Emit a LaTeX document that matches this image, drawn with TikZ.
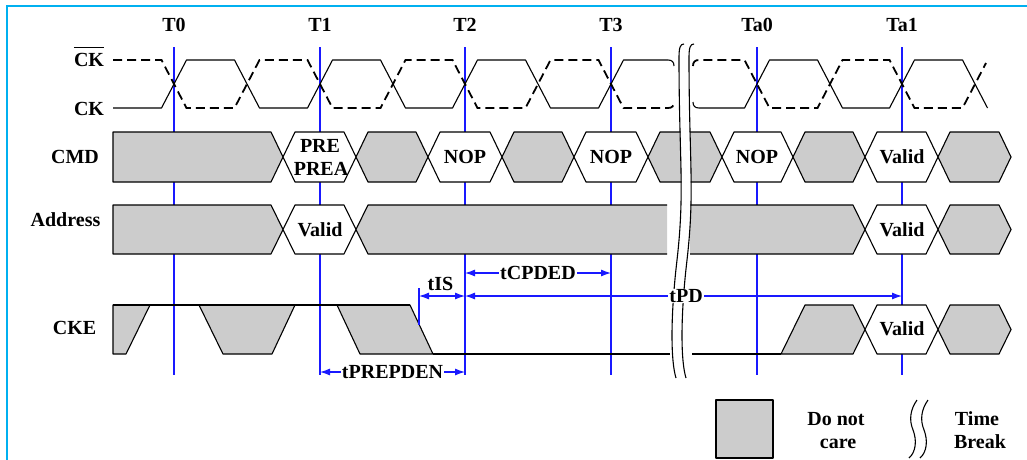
\documentclass[tikz,border=0pt]{standalone}
\usepackage{fontspec}
\setmainfont{Liberation Serif}
\usetikzlibrary{arrows.meta}
\definecolor{framec}{RGB}{0,176,240}
\definecolor{tline}{RGB}{25,25,255}
\definecolor{dnc}{RGB}{204,204,204}
\tikzset{
  lbl/.style={font=\fontsize{20}{23}\selectfont\bfseries, inner sep=0pt, anchor=base},
  sig/.style={line width=1.1pt, black, line join=round},
  ckdash/.style={line width=1.8pt, black, dash pattern=on 9pt off 5pt},
  dncshape/.style={fill=dnc, draw=black, line width=1.1pt, line join=round},
  valshape/.style={fill=white, draw=black, line width=1.1pt, line join=round},
  tl/.style={tline, line width=1.1pt},
  dimarrow/.style={tline, line width=1.1pt, {Latex[length=10pt,width=7pt]}-{Latex[length=10pt,width=7pt]}},
  dimlbl/.style={font=\fontsize{20}{23}\selectfont\bfseries, fill=white, inner xsep=1pt, inner ysep=0pt, text=black},
}
% style, a, b, top, mid, bot
\newcommand\hexsig[6]{\path[#1] (#2,#5) -- ({#2+12},#4) -- ({#3-12},#4) -- (#3,#5) -- ({#3-12},#6) -- ({#2+12},#6) -- cycle;}
\newcommand\brkcurve{(684,44) .. controls (680,44) and (679,48) .. (679,58) .. controls (679,160) and (685,190) .. (677,260) .. controls (670,320) and (671,362) .. (676,378)}
\newcommand\legbrk{(917,400) .. controls (910,410) and (909,420) .. (913,430) .. controls (917,440) and (916,452) .. (909,458)}
\begin{document}
\begin{tikzpicture}[x=1pt,y=-1pt]
\useasboundingbox (0,0) rectangle (1027,459);
% frame
\draw[framec, line width=2pt] (1032,6) -- (6.5,6) -- (6.5,465);
% time lines and labels
\foreach \x/\n in {174/T0,320/T1,465/T2,611/T3,757/Ta0,902/Ta1} {
  \coordinate (\n t) at (\x,47);
  \coordinate (\n b) at (\x,375);
  \draw[tl] (\n t) -- (\n b);
  \node[lbl] (lab\n) at (\x,31.6) {\n};
}
% signal names
\node[lbl] (ckbar) at (89,66) {CK};
\draw[line width=1.6pt] ([yshift=5pt]ckbar.north west) -- ([yshift=5pt]ckbar.north east);
\node[lbl] (ck) at (89,115) {CK};
\node[lbl] (cmd) at (75,163.5) {CMD};
\node[lbl] (addr) at (65.5,226) {Address};
\node[lbl] (cke) at (74.5,334) {CKE};
% clocks
\draw[sig] (113,108) -- (161.5,108) -- (186.5,60) -- (234.5,60) -- (259.5,108) -- (307.5,108) -- (332.5,60) -- (380.5,60) -- (405.5,108) -- (452.5,108) -- (477.5,60) -- (525.5,60) -- (550.5,108) -- (598.5,108) -- (623.5,60) -- (668,60) .. controls (672,60) and (674,62) .. (674,66);
\draw[ckdash] (113,60) -- (161.5,60) -- (186.5,108) -- (234.5,108) -- (259.5,60) -- (307.5,60) -- (332.5,108) -- (380.5,108) -- (405.5,60) -- (452.5,60) -- (477.5,108) -- (525.5,108) -- (550.5,60) -- (598.5,60) -- (623.5,108) -- (668,108) .. controls (672,108) and (674,106) .. (674,102);
\draw[sig] (693,102) .. controls (693,106) and (695,108) .. (699,108) -- (744.5,108) -- (769.5,60) -- (817.5,60) -- (842.5,108) -- (889.5,108) -- (914.5,60) -- (962.5,60) -- (987.5,108);
\draw[ckdash] (693,66) .. controls (693,62) and (695,60) .. (699,60) -- (744.5,60) -- (769.5,108) -- (817.5,108) -- (842.5,60) -- (889.5,60) -- (914.5,108) -- (962.5,108) -- (986,63);
% CMD row
\path[dncshape] (113,132) -- (271,132) -- (283,157) -- (271,182) -- (113,182) -- cycle;
\hexsig{valshape}{283}{356}{132}{157}{182}
\hexsig{dncshape}{356}{428}{132}{157}{182}
\hexsig{valshape}{428}{502}{132}{157}{182}
\hexsig{dncshape}{502}{574}{132}{157}{182}
\hexsig{valshape}{574}{648}{132}{157}{182}
\hexsig{dncshape}{648}{722}{132}{157}{182}
\hexsig{valshape}{722}{793}{132}{157}{182}
\hexsig{dncshape}{793}{865}{132}{157}{182}
\hexsig{valshape}{865}{938}{132}{157}{182}
\hexsig{dncshape}{938}{1011}{132}{157}{182}
% Address row
\path[dncshape] (113,205) -- (271,205) -- (283,229.5) -- (271,254) -- (113,254) -- cycle;
\hexsig{valshape}{283}{356}{205}{229.5}{254}
\fill[dnc] (356,229.5) -- (368,205) -- (667,205) -- (667,254) -- (368,254) -- cycle;
\draw[sig] (667,205) -- (368,205) -- (356,229.5) -- (368,254) -- (667,254);
\fill[dnc] (690,205) -- (853,205) -- (865,229.5) -- (853,254) -- (690,254) -- cycle;
\draw[sig] (690,205) -- (853,205) -- (865,229.5) -- (853,254) -- (690,254);
\hexsig{valshape}{865}{938}{205}{229.5}{254}
\hexsig{dncshape}{938}{1011}{205}{229.5}{254}
% CKE row
\path[dncshape] (113,305) -- (150,305) -- (126,354) -- (113,354) -- cycle;
\path[dncshape] (199,305) -- (295,305) -- (272,354) -- (223,354) -- cycle;
\path[dncshape] (337,305) -- (410,305) -- (433,354) -- (360,354) -- cycle;
\draw[sig] (113,305) -- (410,305);
\draw[sig] (433,354) -- (670,354);
\draw[sig] (692,354) -- (781,354);
\path[dncshape] (781,354) -- (805,305) -- (853,305) -- (865,329.5) -- (853,354) -- cycle;
\hexsig{valshape}{865}{938}{305}{329.5}{354}
\hexsig{dncshape}{938}{1011}{305}{329.5}{354}
% hex labels
\node[lbl] (pre) at (320,152) {PRE};
\node[lbl] (prea) at (321,175) {PREA};
\node[lbl] (nop1) at (465,163.3) {NOP};
\node[lbl] (nop2) at (611,163.3) {NOP};
\node[lbl] (nop3) at (757,163.3) {NOP};
\node[lbl] (val1) at (902,163) {Valid};
\node[lbl] (val2) at (320,236.5) {Valid};
\node[lbl] (val3) at (902,236) {Valid};
\node[lbl] (val4) at (902,335) {Valid};
% time break
\draw[white, line width=9pt, xshift=5pt] \brkcurve;
\draw[line width=1.1pt] \brkcurve;
\draw[line width=1.1pt, xshift=10pt] \brkcurve;
% timing annotations
\coordinate (isTop) at (419,288);
\coordinate (isBot) at (419,325);
\draw[tl] (isTop) -- (isBot);
\coordinate (isL) at (419,296);
\coordinate (isR) at (465,296);
\draw[dimarrow] (isL) -- (isR);
\node[lbl] (tis) at (440.5,290.7) {tIS};
\coordinate (pdL) at (465,296);
\coordinate (pdR) at (902,296);
\draw[dimarrow] (pdL) -- node[dimlbl, pos=0.506] (tpd) {tPD} (pdR);
\coordinate (cpL) at (465,273);
\coordinate (cpR) at (611,273);
\draw[dimarrow] (cpL) -- node[dimlbl] (tcpded) {tCPDED} (cpR);
\coordinate (ppL) at (320,372);
\coordinate (ppR) at (465,372);
\draw[dimarrow] (ppL) -- node[dimlbl] (tprepden) {tPREPDEN} (ppR);
% legend
\path[dncshape] (716,400) rectangle (773,458);
\node[lbl] (lg1) at (836,425) {Do not};
\node[lbl] (lg2) at (838,448.3) {care};
\draw[line width=1.1pt] \legbrk;
\draw[line width=1.1pt, xshift=11pt] \legbrk;
\node[lbl] (lg3) at (977,425) {Time};
\node[lbl] (lg4) at (980,448.3) {Break};
\end{tikzpicture}
\end{document}
